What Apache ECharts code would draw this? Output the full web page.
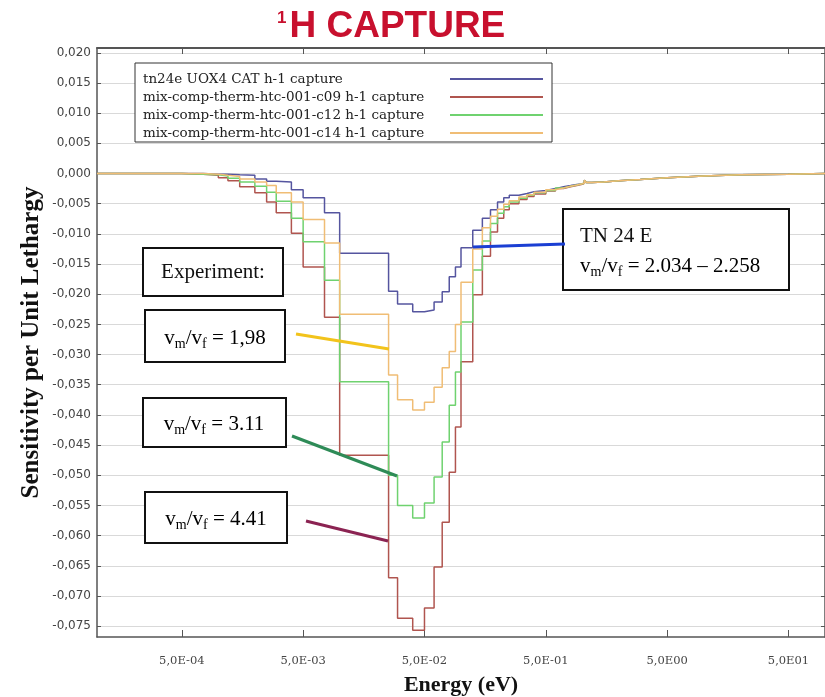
<!DOCTYPE html>
<html><head><meta charset="utf-8">
<script src="https://cdn.jsdelivr.net/npm/echarts@6/dist/echarts.min.js"></script>
<style>html,body{margin:0;padding:0;background:#fff}#c{width:825px;height:697px}</style>
</head><body><div id="c"></div>
<script>
// Energy group boundaries (eV) – lower bound of each step, last value = upper end
const groupBounds = [1e-4, 5e-4, 7.5e-4, 1e-3, 1.2e-3, 1.5e-3, 2e-3, 2.5e-3, 3e-3, 4e-3, 5e-3, 7.5e-3, 1e-2,
  2.53e-2, 3e-2, 4e-2, 5e-2, 6e-2, 7e-2, 8e-2, 9e-2, 0.1, 0.125, 0.15, 0.175, 0.2, 0.225, 0.25, 0.3, 0.35, 0.4,
  0.5, 0.6, 0.7, 0.8, 0.9, 1.0, 1.04, 1.08, 1.2, 1.5, 2.0, 3.0, 5.0, 10, 20, 50, 100];

const seriesNames = [
  'tn24e UOX4 CAT h-1 capture',
  'mix-comp-therm-htc-001-c09 h-1 capture',
  'mix-comp-therm-htc-001-c12 h-1 capture',
  'mix-comp-therm-htc-001-c14 h-1 capture'
];

// sensitivity per unit lethargy in each group
const tn24e = [0, 0, -0.0001, -0.0001, -0.0002, -0.0003, -0.0009, -0.0013, -0.0014, -0.0027, -0.0040, -0.0065, -0.0132,
  -0.0195, -0.0216, -0.0229, -0.0226, -0.0213, -0.0196, -0.0171, -0.0155, -0.0123, -0.0094, -0.0074, -0.0060, -0.0047, -0.0040,
  -0.0036, -0.0033, -0.0030, -0.0028, -0.0025, -0.0022, -0.0020, -0.0018, -0.0017, -0.0016, -0.0011, -0.0015, -0.0014,
  -0.0012, -0.0010, -0.0007, -0.0004, -0.0002, -0.0001, 0];
const c09 = [0, -0.0001, -0.0003, -0.0007, -0.0012, -0.0022, -0.0032, -0.0047, -0.0065, -0.0099, -0.0155, -0.0238, -0.0467,
  -0.0670, -0.0737, -0.0757, -0.0720, -0.0652, -0.0578, -0.0495, -0.0420, -0.0312, -0.0201, -0.0137, -0.0097, -0.0074, -0.0060,
  -0.0050, -0.0043, -0.0038, -0.0034, -0.0029, -0.0025, -0.0022, -0.0020, -0.0018, -0.0016, -0.0011, -0.0015, -0.0014,
  -0.0012, -0.0010, -0.0007, -0.0004, -0.0002, -0.0001, 0];
const c12 = [0, -0.0001, -0.0002, -0.0004, -0.0008, -0.0014, -0.0021, -0.0031, -0.0046, -0.0074, -0.0113, -0.0177, -0.0345,
  -0.0500, -0.0550, -0.0571, -0.0546, -0.0503, -0.0445, -0.0384, -0.0329, -0.0246, -0.0160, -0.0112, -0.0083, -0.0066, -0.0055,
  -0.0047, -0.0041, -0.0036, -0.0032, -0.0028, -0.0024, -0.0021, -0.0019, -0.0017, -0.0016, -0.0011, -0.0015, -0.0014,
  -0.0012, -0.0010, -0.0007, -0.0004, -0.0002, -0.0001, 0];
const c14 = [0, 0, -0.0001, -0.0003, -0.0005, -0.0009, -0.0014, -0.0020, -0.0032, -0.0047, -0.0076, -0.0115, -0.0233,
  -0.0334, -0.0375, -0.0392, -0.0379, -0.0354, -0.0322, -0.0295, -0.0250, -0.0180, -0.0125, -0.0090, -0.0071, -0.0059, -0.0051,
  -0.0045, -0.0039, -0.0035, -0.0031, -0.0027, -0.0024, -0.0021, -0.0019, -0.0017, -0.0016, -0.0011, -0.0015, -0.0014,
  -0.0012, -0.0010, -0.0007, -0.0004, -0.0002, -0.0001, 0];

const yTicks = [0.020, 0.015, 0.010, 0.005, 0.000, -0.005, -0.010, -0.015, -0.020, -0.025, -0.030, -0.035,
  -0.040, -0.045, -0.050, -0.055, -0.060, -0.065, -0.070, -0.075];
const xTicks = [5e-4, 5e-3, 5e-2, 5e-1, 5, 50];
const xTickLabels = ['5,0E-04', '5,0E-03', '5,0E-02', '5,0E-01', '5,0E00', '5,0E01'];

const seriesValues = [tn24e, c09, c12, c14];
const seriesColors = ['#55559f', '#b0554f', '#6fd26f', '#f0bd75'];

function stepData(vals) {
  return groupBounds.map((e, i) => [e, vals[Math.min(i, vals.length - 1)]]);
}

const chart = echarts.init(document.getElementById('c'), null, {renderer: 'canvas'});
const axisLineStyle = {color: '#555', width: 1.5};
const serif = "'Liberation Serif', 'Times New Roman', serif";
const sub = {fontFamily: serif, fontSize: 14, color: '#111', padding: [12, 0, 0, 0]};
const main = {fontFamily: serif, fontSize: 21, color: '#111'};
const richV = {a: main, s: sub};
function vmvf(rest) { return '{a|v}{s|m}{a|/v}{s|f}{a|' + rest + '}'; }

const option = {
  animation: false,
  backgroundColor: '#fff',
  title: {
    text: '{s|1}{h|H CAPTURE}',
    left: 272, top: 3,
    textStyle: {
      rich: {
        s: {fontFamily: 'Liberation Sans', fontWeight: 'bold', fontSize: 17, color: '#c8102e', padding: [0, 3, 16, 0]},
        h: {fontFamily: 'Liberation Sans', fontWeight: 'bold', fontSize: 37, color: '#c8102e'}
      }
    }
  },
  grid: {left: 97, right: 0, top: 48, bottom: 60, containLabel: false, outerBoundsMode: 'none'},
  legend: {
    orient: 'vertical', left: 135, top: 63, align: 'right',
    icon: 'rect', itemWidth: 93, itemHeight: 2, itemGap: 4,
    padding: [9, 9, 2, 8],
    backgroundColor: '#fff', borderColor: '#333', borderWidth: 1,
    data: seriesNames,
    formatter: n => '{t|' + n + '}',
    textStyle: {rich: {t: {width: 302, align: 'left', fontFamily: 'DejaVu Serif', fontSize: 13.5, lineHeight: 18, color: '#222'}}}
  },
  xAxis: [{
    type: 'log', logBase: 10, min: 1e-4, max: 100,
    name: 'Energy (eV)', nameLocation: 'middle', nameGap: 37, nameMoveOverlap: false,
    nameTextStyle: {fontFamily: serif, fontWeight: 'bold', fontSize: 22, color: '#111'},
    axisLine: {onZero: false, lineStyle: axisLineStyle},
    axisTick: {inside: true, length: 7, customValues: xTicks, lineStyle: {color: '#555'}},
    axisLabel: {customValues: xTicks, margin: 18, fontFamily: 'DejaVu Serif', fontSize: 11.5, color: '#444',
      formatter: v => { const i = xTicks.findIndex(t => Math.abs(t - v) / t < 1e-6); return i >= 0 ? xTickLabels[i] : ''; }},
    splitLine: {show: false}, minorTick: {show: false}
  }, {
    type: 'log', logBase: 10, min: 1e-4, max: 100, position: 'top',
    axisLine: {onZero: false, lineStyle: {color: '#555', width: 2}},
    axisTick: {inside: true, length: 6, customValues: xTicks, lineStyle: {color: '#555'}},
    axisLabel: {show: false}, splitLine: {show: false}
  }],
  yAxis: [{
    type: 'value', min: -0.0768, max: 0.0208,
    name: 'Sensitivity per Unit Lethargy', nameLocation: 'middle', nameRotate: 90, nameGap: 53, nameMoveOverlap: false,
    nameTextStyle: {fontFamily: serif, fontWeight: 'bold', fontSize: 25, color: '#111'},
    axisLine: {show: true, onZero: false, lineStyle: axisLineStyle},
    axisTick: {show: true, inside: true, length: 4, customValues: yTicks, lineStyle: {color: '#555'}},
    axisLabel: {customValues: yTicks, margin: 6, fontFamily: 'DejaVu Sans', fontSize: 12, color: '#444',
      formatter: v => (Math.abs(v) < 1e-9 ? 0 : v).toFixed(3).replace('.', ',')},
    splitLine: {show: true, lineStyle: {color: '#d9d9d9', width: 1}}
  }, {
    type: 'value', min: -0.0768, max: 0.0208, position: 'right',
    axisLine: {show: true, onZero: false, lineStyle: axisLineStyle},
    axisTick: {show: true, inside: true, length: 4, customValues: yTicks, lineStyle: {color: '#555'}},
    axisLabel: {show: false}, splitLine: {show: false}
  }],
  series: seriesNames.map((n, k) => ({
    name: n, type: 'line', step: 'end', showSymbol: false, symbol: 'none',
    color: seriesColors[k],
    lineStyle: {width: 1.5, color: seriesColors[k]},
    data: stepData(seriesValues[k])
  })),
  graphic: [
    {type: 'rect', shape: {x: 143, y: 248, width: 140, height: 48}, style: {fill: '#fff', stroke: '#111', lineWidth: 2}, z: 100},
    {type: 'text', x: 213, y: 272, style: {text: 'Experiment:', font: "21px 'Liberation Serif'", fill: '#111', align: 'center', verticalAlign: 'middle'}, z: 101},
    {type: 'rect', shape: {x: 145, y: 310, width: 140, height: 52}, style: {fill: '#fff', stroke: '#111', lineWidth: 2}, z: 100},
    {type: 'text', x: 215, y: 338, style: {text: vmvf(' = 1,98'), rich: richV, align: 'center', verticalAlign: 'middle'}, z: 101},
    {type: 'rect', shape: {x: 143, y: 398, width: 143, height: 49}, style: {fill: '#fff', stroke: '#111', lineWidth: 2}, z: 100},
    {type: 'text', x: 214, y: 424, style: {text: vmvf(' = 3.11'), rich: richV, align: 'center', verticalAlign: 'middle'}, z: 101},
    {type: 'rect', shape: {x: 145, y: 492, width: 142, height: 51}, style: {fill: '#fff', stroke: '#111', lineWidth: 2}, z: 100},
    {type: 'text', x: 216, y: 519, style: {text: vmvf(' = 4.41'), rich: richV, align: 'center', verticalAlign: 'middle'}, z: 101},
    {type: 'rect', shape: {x: 563, y: 209, width: 226, height: 81}, style: {fill: '#fff', stroke: '#111', lineWidth: 2}, z: 100},
    {type: 'text', x: 580, y: 236, style: {text: 'TN 24 E', font: "21px 'Liberation Serif'", fill: '#111', align: 'left', verticalAlign: 'middle'}, z: 101},
    {type: 'text', x: 580, y: 266, style: {text: vmvf(' = 2.034 \u2013 2.258'), rich: richV, align: 'left', verticalAlign: 'middle'}, z: 101},
    {type: 'line', shape: {x1: 296, y1: 334, x2: 389, y2: 349}, style: {stroke: '#f2c31b', lineWidth: 3}, z: 102},
    {type: 'line', shape: {x1: 292, y1: 436, x2: 397, y2: 476}, style: {stroke: '#2e8b57', lineWidth: 3}, z: 102},
    {type: 'line', shape: {x1: 306, y1: 521, x2: 388, y2: 541}, style: {stroke: '#8b2352', lineWidth: 3}, z: 102},
    {type: 'line', shape: {x1: 473, y1: 247, x2: 565, y2: 244}, style: {stroke: '#1b3fd3', lineWidth: 3}, z: 102}
  ]
};
chart.setOption(option);
</script></body></html>
